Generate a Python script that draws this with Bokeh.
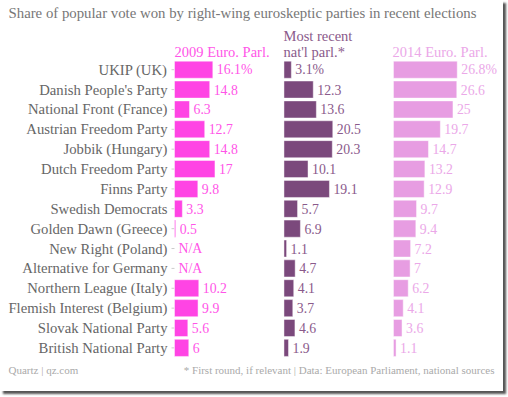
from bokeh.plotting import figure
from bokeh.models import Range1d
from bokeh.core.properties import value
from bokeh.embed import file_html
from bokeh.resources import INLINE

parties = ["UKIP (UK)", "Danish People's Party", "National Front (France)",
           "Austrian Freedom Party", "Jobbik (Hungary)", "Dutch Freedom Party",
           "Finns Party", "Swedish Democrats", "Golden Dawn (Greece)",
           "New Right (Poland)", "Alternative for Germany", "Northern League (Italy)",
           "Flemish Interest (Belgium)", "Slovak National Party", "British National Party"]
euro2009 = [16.1, 14.8, 6.3, 12.7, 14.8, 17, 9.8, 3.3, 0.5, None, None, 10.2, 9.9, 5.6, 6]
national = [3.1, 12.3, 13.6, 20.5, 20.3, 10.1, 19.1, 5.7, 6.9, 1.1, 4.7, 4.1, 3.7, 4.6, 1.9]
euro2014 = [26.8, 26.6, 25, 19.7, 14.7, 13.2, 12.9, 9.7, 9.4, 7.2, 7, 6.2, 4.1, 3.6, 1.1]

column_titles = ["2009 Euro. Parl.", "Most recent|nat'l parl.*", "2014 Euro. Parl."]
title_text = "Share of popular vote won by right-wing euroskeptic parties in recent elections"
source_left = "Quartz | qz.com"
source_right = "* First round, if relevant | Data: European Parliament, national sources"

FONT = "Liberation Serif"
W, H = 503, 391
S = 2.38          # pixels per percentage point
ROW = 19.87       # pixels per row
X0, Y0 = 174, 69.2  # pixel position of value 0 / first row centre


def px_x(xp):
    return (xp - X0) / S


def px_y(yp):
    return (yp - Y0) / ROW


offsets = [0, 46, 92]
bar_colors = ["#ff44e4", "#7b497c", "#e79de2"]
text_colors = ["#ff55e8", "#8a5a8b", "#eba8e8"]

p = figure(width=W, height=H, output_backend="svg", toolbar_location=None,
           x_range=Range1d(px_x(0), px_x(W)), y_range=Range1d(px_y(H), px_y(0)),
           x_axis_location=None, y_axis_location=None,
           min_border=0, min_border_left=0, min_border_right=0,
           min_border_top=0, min_border_bottom=0)
p.outline_line_color = None
p.grid.visible = False
p.background_fill_color = "white"
p.border_fill_color = "white"
p.styles = {"box-shadow": "3px 3px 2px #555"}

rows = list(range(len(parties)))

# category labels and ticks
p.segment(x0=[px_x(171)] * len(rows), x1=[0] * len(rows), y0=rows, y1=rows,
          line_color="#cccccc", line_width=1)
p.text(x=[0] * len(rows), y=rows, text=parties, x_offset=-7, text_align="right",
       text_baseline="middle", text_font=value(FONT), text_font_size="14.7px",
       text_color="#666666")

for i, vals in enumerate([euro2009, national, euro2014]):
    off = offsets[i]
    bp, bl, br = [], [], []
    tp, tx, tt = [], [], []
    for j, v in enumerate(vals):
        if v is None:
            tp.append(j); tx.append(off); tt.append("N/A")
            continue
        bp.append(j); bl.append(off); br.append(off + v)
        lab = f"{v:g}" + ("%" if j == 0 else "")
        tp.append(j); tx.append(off + v); tt.append(lab)
    p.hbar(y=bp, left=bl, right=br, height=0.86, fill_color=bar_colors[i],
           line_color="white", line_alpha=0.45, line_width=1)
    p.text(x=tx, y=tp, text=tt, x_offset=4, text_baseline="middle",
           text_font=value(FONT), text_font_size="13.8px", text_color=text_colors[i])


def add_text(txt, xp, yp, size, color, align="left"):
    p.text(x=[px_x(xp)], y=[px_y(yp)], text=[txt], text_align=align,
           text_baseline="alphabetic", text_font=value(FONT), text_font_size=size,
           text_color=color)


add_text(title_text, 8, 12.5, "14.8px", "#777777")
col_x = [174, 283, 392]
add_text(column_titles[0], col_x[0], 51.5, "14.5px", text_colors[0])
t1, t2 = column_titles[1].split("|")
add_text(t1, col_x[1], 35, "14.5px", text_colors[1])
add_text(t2, col_x[1], 51.5, "14.5px", text_colors[1])
add_text(column_titles[2], col_x[2], 51.5, "14.5px", text_colors[2])
add_text(source_left, 8, 369.5, "11px", "#aaaaaa")
add_text(source_right, 494, 369.5, "11px", "#aaaaaa", align="right")

open("out.html", "w").write(file_html(p, INLINE))
